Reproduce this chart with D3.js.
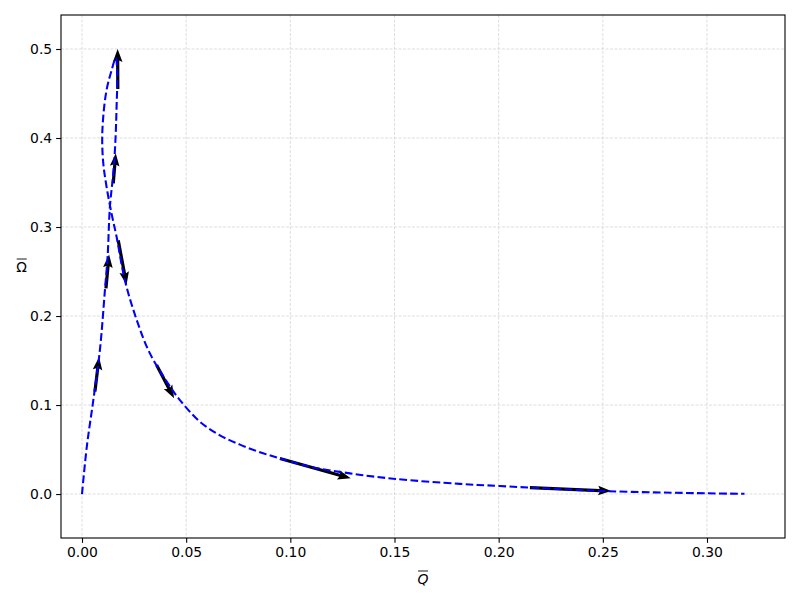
<!DOCTYPE html>
<html>
<head>
<meta charset="utf-8">
<script src="https://cdn.jsdelivr.net/npm/d3@7"></script>
<style>
  body { margin: 0; background: #fff; }
  text { font-family: "DejaVu Sans", sans-serif; }
</style>
</head>
<body>
<svg width="800" height="600"></svg>
<script>
// curve points
var qVals = [0, 0.0023, 0.0054, 0.0086, 0.0110, 0.0123, 0.0134, 0.0150, 0.0160, 0.0166, 0.0169, 0.0162,
  0.0142, 0.0118, 0.0102, 0.0097, 0.0102, 0.0118, 0.0142, 0.0166, 0.0206, 0.0262, 0.0326, 0.0422,
  0.0470, 0.0566, 0.0662, 0.0758, 0.0854, 0.0950, 0.1094, 0.1286, 0.1494, 0.1814, 0.2006, 0.2500,
  0.3000, 0.3180];
var omegaVals = [0, 0.053, 0.105, 0.162, 0.229, 0.267, 0.323, 0.360, 0.395, 0.435, 0.470, 0.490,
  0.476, 0.454, 0.424, 0.398, 0.372, 0.345, 0.315, 0.289, 0.240, 0.196, 0.158, 0.121,
  0.1056, 0.0812, 0.0660, 0.0555, 0.0470, 0.0400, 0.0307, 0.0232, 0.0172, 0.0114, 0.0090, 0.0034,
  0.0008, 0.0003];

// quiver arrows: base and direction
var arrX = [0.0062, 0.0115, 0.0150, 0.0172, 0.0174, 0.0358, 0.095, 0.215];
var arrY = [0.115, 0.231, 0.349, 0.455, 0.285, 0.145, 0.040, 0.0071];
var arrU = [0.0020, 0.0015, 0.0012, -0.0001, 0.0040, 0.0084, 0.034, 0.039];
var arrV = [0.039, 0.038, 0.034, 0.045, -0.050, -0.0375, -0.0224, -0.0037];

var xTicks = [0, 0.05, 0.10, 0.15, 0.20, 0.25, 0.30];
var yTicks = [0, 0.1, 0.2, 0.3, 0.4, 0.5];

var svg = d3.select("svg");
var mLeft = 61, mRight = 785, mTop = 15, mBottom = 538;

var x = d3.scaleLinear().domain([-0.01008, 0.33744]).range([mLeft, mRight]);
var y = d3.scaleLinear().domain([-0.0494, 0.5382]).range([mBottom, mTop]);

// grid
var grid = svg.append("g");
grid.selectAll(".gx").data(xTicks).enter().append("line")
    .attr("x1", function(d) { return x(d); }).attr("x2", function(d) { return x(d); })
    .attr("y1", mTop).attr("y2", mBottom);
grid.selectAll(".gy").data(yTicks).enter().append("line")
    .attr("y1", function(d) { return y(d); }).attr("y2", function(d) { return y(d); })
    .attr("x1", mLeft).attr("x2", mRight);
grid.selectAll("line")
    .attr("stroke", "#d0d0d0")
    .attr("stroke-width", 0.7)
    .attr("stroke-dasharray", "3,1.5");

// arrows (drawn under the line)
var arrows = d3.range(arrX.length).map(function(i) {
  return { x0: arrX[i], y0: arrY[i], x1: arrX[i] + arrU[i], y1: arrY[i] + arrV[i] };
});

function arrowPath(d) {
  var bx = x(d.x0), by = y(d.y0), tx = x(d.x1), ty = y(d.y1);
  var dx = tx - bx, dy = ty - by, len = Math.sqrt(dx * dx + dy * dy);
  var ux = dx / len, uy = dy / len, nx = -uy, ny = ux;
  var sw = 1.6, hw = 4.8, hl = 13, ha = 11.5;
  function p(a, b) { return [bx + ux * a + nx * b, by + uy * a + ny * b]; }
  var pts = [p(0, sw), p(len - ha, sw), p(len - hl, hw), p(len, 0),
             p(len - hl, -hw), p(len - ha, -sw), p(0, -sw)];
  return "M" + pts.map(function(q) { return q[0].toFixed(2) + "," + q[1].toFixed(2); }).join("L") + "Z";
}

svg.append("g").selectAll("path").data(arrows).enter().append("path")
    .attr("d", arrowPath)
    .attr("fill", "#000");

// the curve
var pts = qVals.map(function(q, i) { return [q, omegaVals[i]]; });
var line = d3.line()
    .x(function(d) { return x(d[0]); })
    .y(function(d) { return y(d[1]); })
    .curve(d3.curveCatmullRom.alpha(0.5));

svg.append("path")
    .datum(pts)
    .attr("d", line)
    .attr("fill", "none")
    .attr("stroke", "#0000ff")
    .attr("stroke-width", 2.08)
    .attr("stroke-dasharray", "7.7,3.33");

// axes
var xAxis = d3.axisBottom(x).tickValues(xTicks).tickFormat(d3.format(".2f")).tickSize(4.86).tickPadding(4);
var yAxis = d3.axisLeft(y).tickValues(yTicks).tickFormat(d3.format(".1f")).tickSize(4.86).tickPadding(4);

var gx = svg.append("g").attr("transform", "translate(0," + mBottom + ")").call(xAxis);
var gy = svg.append("g").attr("transform", "translate(" + mLeft + ",0)").call(yAxis);
[gx, gy].forEach(function(g) {
  g.select(".domain").remove();
  g.selectAll(".tick line").attr("stroke", "#000").attr("stroke-width", 1.1);
  g.selectAll(".tick text").attr("fill", "#000").style("font-size", "13.9px")
      .style("font-family", "DejaVu Sans");
});

// frame
svg.append("rect")
    .attr("x", mLeft).attr("y", mTop)
    .attr("width", mRight - mLeft).attr("height", mBottom - mTop)
    .attr("fill", "none").attr("stroke", "#000").attr("stroke-width", 1.1);

// labels with overlines
function overLabel(cx, baseline, txt, italic) {
  var t = svg.append("text")
      .attr("x", cx).attr("y", baseline)
      .attr("text-anchor", "middle")
      .style("font-size", "13.9px")
      .style("font-style", italic ? "italic" : "normal")
      .text(txt);
  var b = t.node().getBBox();
  svg.append("line")
      .attr("x1", b.x + 0.5).attr("x2", b.x + b.width - 0.5)
      .attr("y1", baseline - 13).attr("y2", baseline - 13)
      .attr("stroke", "#000").attr("stroke-width", 0.9);
}
overLabel(423, 584, "Q", true);
overLabel(21.5, 272, "\u03a9", false);
</script>
</body>
</html>
